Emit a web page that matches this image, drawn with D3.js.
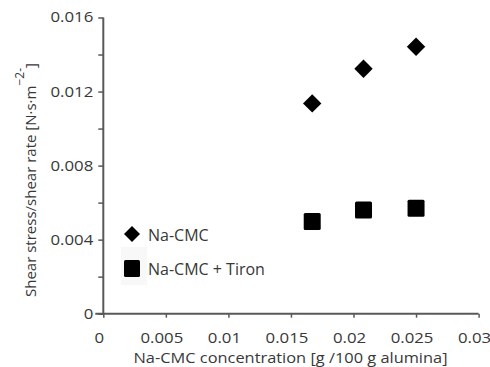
<!DOCTYPE html>
<html>
<head>
<meta charset="utf-8">
<script src="https://cdn.jsdelivr.net/npm/d3@7"></script>
<style>
  html, body { margin: 0; padding: 0; background: #fff; }
  svg { display: block; }
  text { font-family: "Open Sans", "Liberation Sans", sans-serif; fill: #383838; }
</style>
</head>
<body>
<script>
// Viscosity (shear stress / shear rate) versus Na-CMC dosage
const concentrations = [0.0167, 0.0208, 0.0250];
const cmcValues = [0.01136, 0.01323, 0.01442];
const cmcTironValues = [0.00498, 0.00560, 0.00569];
const xTicks = [0, 0.005, 0.01, 0.015, 0.02, 0.025, 0.03];
const xTickLabels = ["0", "0.005", "0.01", "0.015", "0.02", "0.025", "0.03"];
const yTicks = [0, 0.002, 0.004, 0.006, 0.008, 0.01, 0.012, 0.014, 0.016];
const yTickLabels = ["0", "", "0.004", "", "0.008", "", "0.012", "", "0.016"];
const seriesNames = ["Na-CMC", "Na-CMC + Tiron"];

const W = 490, H = 367;
const svg = d3.select("body").append("svg").attr("width", W).attr("height", H);

const x = d3.scaleLinear().domain([0, 0.03]).range([103.3, 478.6]);
const y = d3.scaleLinear().domain([0, 0.016]).range([313.7, 17.5]);

const axisColor = "#595959";
const textColor = "#383838";

// widen glyphs horizontally while keeping each text's anchor
function widen(sel, k) {
  sel.each(function () {
    const len = this.getComputedTextLength();
    if (len > 0) {
      this.setAttribute("textLength", len * k);
      this.setAttribute("lengthAdjust", "spacingAndGlyphs");
    }
  });
}

// y axis
const yAxis = svg.append("g").attr("transform", `translate(${x(0)},0)`)
  .call(d3.axisLeft(y).tickValues(yTicks).tickSize(5).tickPadding(5)
    .tickFormat((d, i) => yTickLabels[i]));
// x axis
const xAxis = svg.append("g").attr("transform", `translate(0,${y(0)})`)
  .call(d3.axisBottom(x).tickValues(xTicks).tickSize(4).tickPadding(15.5)
    .tickFormat((d, i) => xTickLabels[i]));

[yAxis, xAxis].forEach(g => {
  g.select(".domain").attr("stroke", axisColor).attr("stroke-width", 2);
  g.selectAll(".tick line").attr("stroke", axisColor).attr("stroke-width", 1.5);
  g.selectAll(".tick text").style("font-size", "14px").attr("fill", textColor)
    .style("font-family", "'Open Sans', sans-serif");
});
xAxis.selectAll(".tick text").attr("dx", -4.5);
widen(yAxis.selectAll(".tick text"), 1.2);
widen(xAxis.selectAll(".tick text"), 1.2);
xAxis.select(".domain").attr("d", `M${x(0) - 8},0H${x(0.03)}`);
yAxis.select(".domain").attr("d", `M0,${y(0.016)}V${y(0)}`);

// markers
const diamond = s => `M0,${-s}L${s},0L0,${s}L${-s},0Z`;

svg.append("g").selectAll("path").data(concentrations).join("path")
  .attr("d", diamond(9.2))
  .attr("transform", (d, i) => `translate(${x(d)},${y(cmcValues[i])})`)
  .attr("fill", "#000");

svg.append("g").selectAll("rect").data(concentrations).join("rect")
  .attr("x", d => x(d) - 8.5)
  .attr("y", (d, i) => y(cmcTironValues[i]) - 8.5)
  .attr("width", 17).attr("height", 17).attr("rx", 1.5)
  .attr("fill", "#000");

// legend
const legend = svg.append("g");
legend.append("rect").attr("x", 121).attr("y", 247).attr("width", 26).attr("height", 38)
  .attr("fill", "#f8f8f8");
legend.append("path").attr("d", diamond(8)).attr("transform", "translate(132,234)").attr("fill", "#000");
legend.append("rect").attr("x", 124).attr("y", 260).attr("width", 16).attr("height", 17)
  .attr("rx", 1.5).attr("fill", "#000");
legend.selectAll("text").data(seriesNames).join("text")
  .attr("x", 148).attr("y", (d, i) => 240.5 + i * 34.5)
  .style("font-size", "16px")
  .text(d => d);

// axis titles
const xTitle = svg.append("text")
  .attr("x", 290.5).attr("y", 363).attr("text-anchor", "middle")
  .style("font-size", "14px")
  .text("Na-CMC concentration [g /100 g alumina]");
widen(xTitle, 1.17);

const yTitle = svg.append("text")
  .attr("transform", "translate(36,297) rotate(-90)")
  .style("font-size", "15px");
yTitle.append("tspan").text("Shear stress/shear rate [N·s·m");
yTitle.append("tspan").attr("dy", -12).style("font-size", "12px").text("−2-");
yTitle.append("tspan").attr("dy", 12).text("]");
</script>
</body>
</html>
